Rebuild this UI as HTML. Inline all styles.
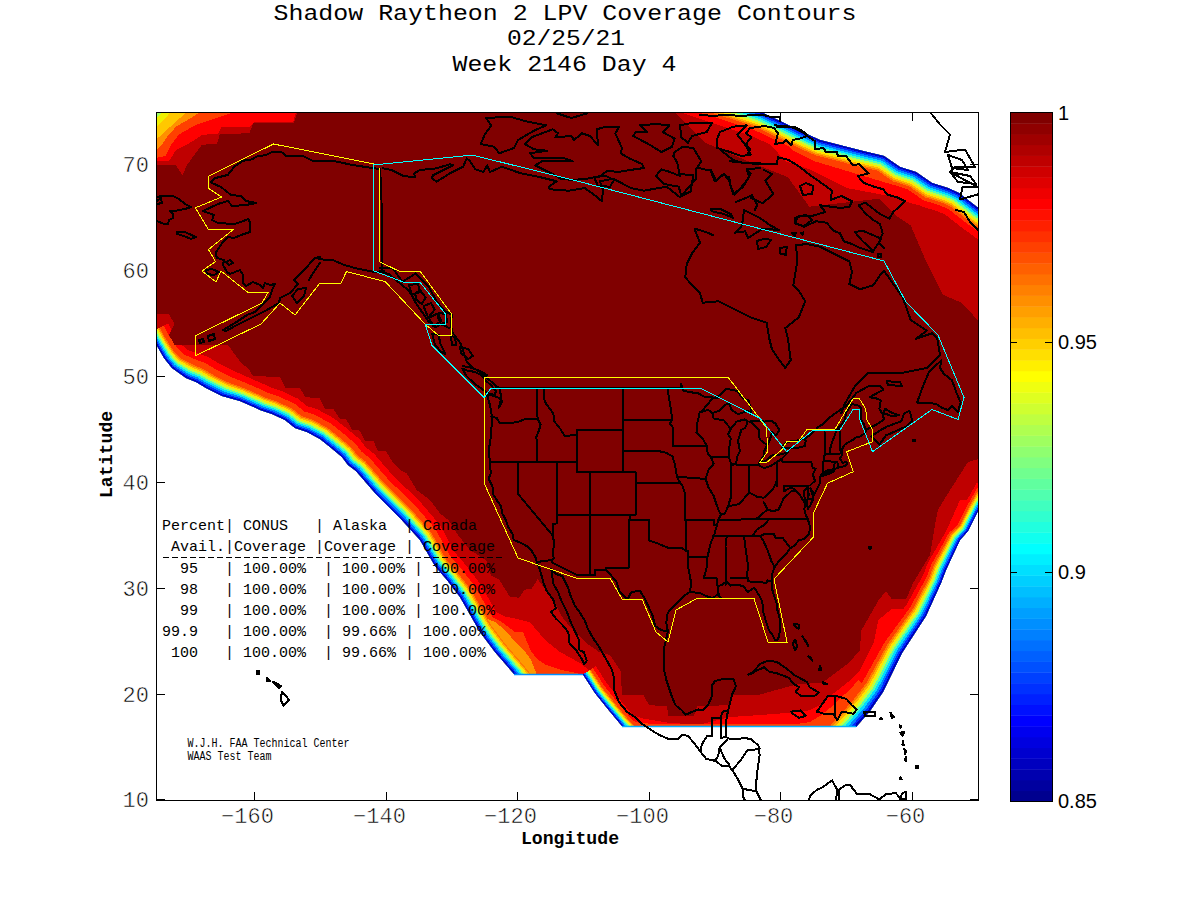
<!DOCTYPE html>
<html><head><meta charset="utf-8">
<style>
html,body{margin:0;padding:0;background:#fff;width:1200px;height:900px;overflow:hidden}
svg{position:absolute;left:0;top:0}
.mono{font-family:"Liberation Mono",monospace}
.sans{font-family:"Liberation Sans",sans-serif}
</style></head><body>
<svg width="1200" height="900" viewBox="0 0 1200 900">
<g stroke="#000" stroke-width="1">
<line x1="254.5" y1="800" x2="254.5" y2="792"/><line x1="254.5" y1="113" x2="254.5" y2="121"/><line x1="386.5" y1="800" x2="386.5" y2="792"/><line x1="386.5" y1="113" x2="386.5" y2="121"/><line x1="517.5" y1="800" x2="517.5" y2="792"/><line x1="517.5" y1="113" x2="517.5" y2="121"/><line x1="649.5" y1="800" x2="649.5" y2="792"/><line x1="649.5" y1="113" x2="649.5" y2="121"/><line x1="780.5" y1="800" x2="780.5" y2="792"/><line x1="780.5" y1="113" x2="780.5" y2="121"/><line x1="912.5" y1="800" x2="912.5" y2="792"/><line x1="912.5" y1="113" x2="912.5" y2="121"/><line x1="157" y1="799.5" x2="165" y2="799.5"/><line x1="978" y1="799.5" x2="970" y2="799.5"/><line x1="157" y1="694.5" x2="165" y2="694.5"/><line x1="978" y1="694.5" x2="970" y2="694.5"/><line x1="157" y1="588.5" x2="165" y2="588.5"/><line x1="978" y1="588.5" x2="970" y2="588.5"/><line x1="157" y1="482.5" x2="165" y2="482.5"/><line x1="978" y1="482.5" x2="970" y2="482.5"/><line x1="157" y1="376.5" x2="165" y2="376.5"/><line x1="978" y1="376.5" x2="970" y2="376.5"/><line x1="157" y1="270.5" x2="165" y2="270.5"/><line x1="978" y1="270.5" x2="970" y2="270.5"/><line x1="157" y1="164.5" x2="165" y2="164.5"/><line x1="978" y1="164.5" x2="970" y2="164.5"/>
</g>

<defs>
<clipPath id="cp0"><polygon points="156.0,112.0 761.0,112.0 761.0,112.0 780.0,121.0 809.0,135.0 820.0,140.0 863.0,151.0 884.0,156.0 900.0,167.0 916.0,172.0 932.0,183.0 948.0,188.0 959.0,193.0 977.0,207.0 978.0,207.0 978.0,511.0 968.0,531.0 960.0,540.0 952.0,557.0 946.0,570.0 941.0,583.0 926.0,616.0 902.0,653.0 883.0,692.0 870.0,711.0 856.0,727.0 856.0,727.0 622.0,726.0 622.0,726.0 607.0,708.0 595.0,693.0 583.0,674.5 514.0,674.0 495.0,652.0 480.0,632.0 460.0,597.0 447.0,580.0 435.0,566.0 420.0,540.0 400.0,518.0 375.0,493.0 356.0,471.0 348.0,465.0 342.0,457.0 330.0,447.0 320.0,439.0 307.0,432.0 295.0,428.0 285.0,420.0 272.0,414.0 260.0,410.0 256.0,408.0 240.0,401.0 222.0,396.0 206.0,388.0 196.0,382.0 186.0,378.0 172.0,368.0 164.0,358.0 156.0,344.0 156.0,344.0"/></clipPath>
<clipPath id="ax"><rect x="156" y="112" width="823" height="689"/></clipPath>
</defs>
<g clip-path="url(#ax)">
<g clip-path="url(#cp0)" shape-rendering="crispEdges">
<polygon points="156.0,112.0 761.0,112.0 761.0,112.0 780.0,121.0 809.0,135.0 820.0,140.0 863.0,151.0 884.0,156.0 900.0,167.0 916.0,172.0 932.0,183.0 948.0,188.0 959.0,193.0 977.0,207.0 978.0,207.0 978.0,511.0 968.0,531.0 960.0,540.0 952.0,557.0 946.0,570.0 941.0,583.0 926.0,616.0 902.0,653.0 883.0,692.0 870.0,711.0 856.0,727.0 856.0,727.0 622.0,726.0 622.0,726.0 607.0,708.0 595.0,693.0 583.0,674.5 514.0,674.0 495.0,652.0 480.0,632.0 460.0,597.0 447.0,580.0 435.0,566.0 420.0,540.0 400.0,518.0 375.0,493.0 356.0,471.0 348.0,465.0 342.0,457.0 330.0,447.0 320.0,439.0 307.0,432.0 295.0,428.0 285.0,420.0 272.0,414.0 260.0,410.0 256.0,408.0 240.0,401.0 222.0,396.0 206.0,388.0 196.0,382.0 186.0,378.0 172.0,368.0 164.0,358.0 156.0,344.0 156.0,344.0" fill="#bf0000"/>
<polygon points="147.4,334.4 153.4,345.5 161.5,359.7 170.0,370.2 184.5,380.6 194.7,384.7 204.6,390.6 220.9,398.8 239.0,403.8 254.8,410.7 258.9,412.8 270.9,416.8 283.4,422.6 293.6,430.6 305.8,434.7 318.4,441.5 328.1,449.3 339.9,459.1 345.9,467.1 353.8,473.1 372.8,495.1 397.8,520.1 417.6,541.8 432.5,567.7 444.7,581.9 457.5,598.6 477.5,633.6 492.7,653.9 511.7,675.9 527.7,695.9 548.8,679.0 532.5,658.6 513.7,636.9 500.3,619.1 480.3,584.1 465.7,564.9 454.9,552.5 440.2,525.3 418.7,500.1 393.2,475.9 374.0,453.7 365.7,447.3 359.7,439.3 345.8,427.7 333.6,418.1 317.1,409.1 307.0,406.1 298.0,398.7 281.3,390.8 268.8,386.6 266.2,385.2 248.3,377.4 231.9,370.1 219.2,363.6 208.4,357.2 200.0,354.0 188.2,350.2 182.5,345.7 173.8,334.1 167.9,323.3" fill="#ff0000" />
<polygon points="580.5,676.1 592.6,694.7 604.7,709.9 619.8,728.0 637.8,747.1 651.1,734.5 633.4,715.8 618.8,698.3 607.4,684.1 595.8,666.2" fill="#ff0000" />
<polygon points="842.2,747.0 858.2,729.0 872.4,712.8 885.6,693.4 904.6,654.5 928.6,617.5 943.8,584.2 948.8,571.2 954.7,558.3 962.6,541.6 970.5,532.6 980.6,512.4 992.6,491.5 977.0,482.6 964.8,503.9 955.3,523.1 945.9,531.4 935.7,549.4 928.0,562.4 923.1,575.2 906.3,605.0 879.8,640.4 858.0,678.2 846.2,692.7 833.5,707.2 817.6,725.1" fill="#ff0000" />
<polygon points="640.9,69.2 700.9,89.2 762.0,109.2 781.3,118.3 810.3,132.3 820.9,137.1 863.7,148.1 885.2,153.2 901.3,164.3 917.3,169.3 933.3,180.3 949.0,185.2 960.6,190.5 978.8,204.6 996.8,217.6 980.0,240.8 961.6,227.5 945.0,214.4 939.1,212.0 920.6,205.9 904.6,194.9 888.6,189.9 873.8,179.5 856.8,175.8 812.7,164.5 798.0,158.1 768.9,144.1 752.3,136.1 692.0,116.3 631.9,96.3" fill="#ff0000" />
<polygon points="440.0,558.0 470.0,596.7 481.7,604.8 493.3,610.7 505.0,616.5 516.7,618.8 529.5,622.3 533.0,625.8 545.0,640.0 560.0,652.0 580.0,663.0 595.0,675.0 604.0,696.0 619.0,711.0 643.0,718.5 670.0,723.0 700.0,724.5 730.0,717.0 760.0,715.0 800.0,712.0 810.0,710.0 820.0,705.0 830.0,696.0 838.0,690.0 848.0,682.0 860.0,670.0 874.0,641.8 878.3,620.2 891.3,609.3 913.0,609.3 921.7,583.3 942.3,540.0 960.0,500.0 1000.0,500.0 1000.0,800.0 400.0,800.0 400.0,560.0" fill="#ff0000" />
<polygon points="684.0,100.0 684.0,112.0 740.0,129.3 766.7,140.0 785.3,161.3 809.3,169.3 846.7,188.0 889.3,196.0 913.3,204.0 945.3,209.3 966.7,225.3 977.3,238.7 990.0,245.0 990.0,100.0" fill="#ff0000" />
<polygon points="147.4,334.4 153.4,345.5 161.5,359.7 170.0,370.2 184.5,380.6 194.7,384.7 204.6,390.6 220.9,398.8 239.0,403.8 254.8,410.7 258.9,412.8 270.9,416.8 283.4,422.6 293.6,430.6 305.8,434.7 318.4,441.5 328.1,449.3 339.9,459.1 345.9,467.1 353.8,473.1 372.8,495.1 397.8,520.1 417.6,541.8 432.5,567.7 444.7,581.9 457.5,598.6 477.5,633.6 492.7,653.9 511.7,675.9 527.7,695.9 544.2,682.6 528.0,662.3 509.1,640.5 495.4,622.2 475.4,587.2 461.2,568.6 450.1,555.8 435.3,528.9 414.2,504.4 388.8,480.1 369.6,457.9 361.4,451.6 355.4,443.6 342.0,432.4 330.3,423.2 314.6,414.7 304.1,411.4 294.8,403.9 279.0,396.5 266.6,392.3 263.8,390.8 246.3,383.2 229.5,376.4 216.0,369.5 205.4,363.2 196.6,359.9 184.2,354.5 178.0,348.7 169.4,336.5 163.5,325.6" fill="#ff4000" />
<polygon points="580.5,676.1 592.6,694.7 604.7,709.9 619.8,728.0 637.8,747.1 648.5,737.0 630.7,718.2 616.1,700.6 604.5,686.2 592.8,668.1" fill="#ff4000" />
<polygon points="842.2,747.0 858.2,729.0 872.4,712.8 885.6,693.4 904.6,654.5 928.6,617.5 943.8,584.2 948.8,571.2 954.7,558.3 962.6,541.6 970.5,532.6 980.6,512.4 992.6,491.5 979.6,484.0 967.4,505.3 957.8,524.7 948.8,533.1 939.0,550.9 931.6,563.9 926.7,576.8 910.3,607.2 884.2,643.0 863.0,681.0 851.0,696.3 838.0,711.1 822.1,729.1" fill="#ff4000" />
<polygon points="640.9,69.2 700.9,89.2 762.0,109.2 781.3,118.3 810.3,132.3 820.9,137.1 863.7,148.1 885.2,153.2 901.3,164.3 917.3,169.3 933.3,180.3 949.0,185.2 960.6,190.5 978.8,204.6 996.8,217.6 983.8,235.6 965.5,222.4 948.5,209.1 941.3,206.0 923.4,200.2 907.4,189.2 891.4,184.2 876.4,173.6 858.3,169.6 814.5,158.4 800.8,152.3 771.7,138.3 754.5,130.1 694.0,110.2 633.9,90.2" fill="#ff4000" />
<polygon points="440.0,590.0 476.5,603.0 488.4,614.9 502.5,622.5 515.5,632.3 523.1,632.3 530.7,650.7 537.2,659.3 545.8,664.8 562.1,670.2 578.3,673.4 583.0,676.0 598.0,693.0 610.0,706.5 625.0,718.5 640.0,723.0 660.0,724.2 718.0,724.2 800.0,723.5 810.0,722.0 820.0,716.0 830.0,708.0 840.0,698.0 850.0,690.0 858.0,680.0 880.0,700.0 990.0,760.0 990.0,800.0 400.0,800.0 400.0,600.0" fill="#ff4000" />
<polygon points="697.3,100.0 697.3,112.0 748.0,126.7 772.0,132.0 793.3,150.7 814.7,161.3 841.3,169.3 868.0,177.3 894.7,185.3 926.7,193.3 950.7,204.0 966.7,217.3 977.3,228.0 990.0,235.0 990.0,100.0" fill="#ff4000" />
<polygon points="440.0,600.0 496.0,622.5 505.8,631.2 515.5,642.0 524.2,650.7 530.7,659.3 536.0,672.3 540.0,690.0 400.0,720.0" fill="#ff9800" />
<polygon points="147.4,334.4 153.4,345.5 161.5,359.7 170.0,370.2 184.5,380.6 194.7,384.7 204.6,390.6 220.9,398.8 239.0,403.8 254.8,410.7 258.9,412.8 270.9,416.8 283.4,422.6 293.6,430.6 305.8,434.7 318.4,441.5 328.1,449.3 339.9,459.1 345.9,467.1 353.8,473.1 372.8,495.1 397.8,520.1 417.6,541.8 432.5,567.7 444.7,581.9 457.5,598.6 477.5,633.6 492.7,653.9 511.7,675.9 527.7,695.9 540.2,685.9 524.0,665.7 505.1,643.8 491.0,625.0 471.0,590.0 457.1,571.8 445.8,558.7 430.9,532.0 410.1,508.3 384.9,483.8 365.7,461.6 357.5,455.5 351.5,447.5 338.5,436.6 327.4,427.7 312.4,419.6 301.5,416.1 292.0,408.5 277.0,401.5 264.7,397.4 261.5,395.7 244.5,388.3 227.4,382.0 213.1,374.8 202.7,368.6 193.6,365.0 180.7,358.4 174.0,351.3 165.6,338.6 159.7,327.7" fill="#ff7800" />
<polygon points="580.5,676.1 592.6,694.7 604.7,709.9 619.8,728.0 637.8,747.1 646.5,738.8 628.7,720.0 614.0,702.3 602.3,687.8 590.6,669.6" fill="#ff7800" />
<polygon points="842.2,747.0 858.2,729.0 872.4,712.8 885.6,693.4 904.6,654.5 928.6,617.5 943.8,584.2 948.8,571.2 954.7,558.3 962.6,541.6 970.5,532.6 980.6,512.4 992.6,491.5 981.3,485.0 969.2,506.3 959.5,525.7 950.6,534.2 941.1,551.9 934.0,564.9 929.1,577.8 912.9,608.7 887.2,644.6 866.4,682.8 854.2,698.8 841.0,713.8 825.1,731.7" fill="#ff7800" />
<polygon points="640.9,69.2 700.9,89.2 762.0,109.2 781.3,118.3 810.3,132.3 820.9,137.1 863.7,148.1 885.2,153.2 901.3,164.3 917.3,169.3 933.3,180.3 949.0,185.2 960.6,190.5 978.8,204.6 996.8,217.6 985.6,233.0 967.4,219.8 950.2,206.4 942.4,203.0 924.8,197.3 908.8,186.3 892.8,181.3 877.6,170.7 859.1,166.5 815.5,155.3 802.1,149.5 773.1,135.4 755.5,127.0 695.0,107.2 634.9,87.2" fill="#ff7800" />
<polygon points="147.4,334.4 153.4,345.5 161.5,359.7 170.0,370.2 184.5,380.6 194.7,384.7 204.6,390.6 220.9,398.8 239.0,403.8 254.8,410.7 258.9,412.8 270.9,416.8 283.4,422.6 293.6,430.6 305.8,434.7 318.4,441.5 328.1,449.3 339.9,459.1 345.9,467.1 353.8,473.1 372.8,495.1 397.8,520.1 417.6,541.8 432.5,567.7 444.7,581.9 457.5,598.6 477.5,633.6 492.7,653.9 511.7,675.9 527.7,695.9 539.1,686.7 523.0,666.5 504.1,644.6 489.9,625.7 469.9,590.7 456.1,572.7 444.7,559.5 429.8,532.8 409.1,509.3 383.9,484.7 364.7,462.6 356.6,456.4 350.6,448.4 337.7,437.6 326.6,428.8 311.9,420.9 300.8,417.3 291.3,409.6 276.5,402.7 264.3,398.6 261.0,396.9 244.0,389.5 226.8,383.4 212.4,376.1 202.0,369.9 192.8,366.3 179.9,359.3 173.0,352.0 164.6,339.2 158.7,328.3" fill="#ffaf00" />
<polygon points="580.5,676.1 592.6,694.7 604.7,709.9 619.8,728.0 637.8,747.1 645.9,739.4 628.0,720.6 613.3,702.9 601.6,688.3 589.8,670.1" fill="#ffaf00" />
<polygon points="842.2,747.0 858.2,729.0 872.4,712.8 885.6,693.4 904.6,654.5 928.6,617.5 943.8,584.2 948.8,571.2 954.7,558.3 962.6,541.6 970.5,532.6 980.6,512.4 992.6,491.5 982.2,485.5 970.1,506.7 960.4,526.3 951.6,534.8 942.2,552.4 935.2,565.4 930.3,578.3 914.2,609.4 888.7,645.5 868.0,683.7 855.7,700.0 842.5,715.1 826.5,733.0" fill="#ffaf00" />
<polygon points="640.9,69.2 700.9,89.2 762.0,109.2 781.3,118.3 810.3,132.3 820.9,137.1 863.7,148.1 885.2,153.2 901.3,164.3 917.3,169.3 933.3,180.3 949.0,185.2 960.6,190.5 978.8,204.6 996.8,217.6 986.6,231.7 968.4,218.5 951.1,205.0 943.0,201.5 925.6,195.9 909.6,184.9 893.6,179.9 878.3,169.2 859.5,165.0 815.9,153.8 802.8,148.0 773.8,134.0 756.1,125.5 695.5,105.7 635.4,85.7" fill="#ffaf00" />
<polygon points="147.4,334.4 153.4,345.5 161.5,359.7 170.0,370.2 184.5,380.6 194.7,384.7 204.6,390.6 220.9,398.8 239.0,403.8 254.8,410.7 258.9,412.8 270.9,416.8 283.4,422.6 293.6,430.6 305.8,434.7 318.4,441.5 328.1,449.3 339.9,459.1 345.9,467.1 353.8,473.1 372.8,495.1 397.8,520.1 417.6,541.8 432.5,567.7 444.7,581.9 457.5,598.6 477.5,633.6 492.7,653.9 511.7,675.9 527.7,695.9 538.1,687.5 522.0,667.3 503.1,645.5 488.8,626.4 468.8,591.4 455.1,573.5 443.6,560.2 428.7,533.6 408.1,510.3 382.9,485.6 363.8,463.5 355.6,457.4 349.6,449.4 336.8,438.6 325.9,430.0 311.3,422.1 300.2,418.5 290.6,410.8 276.0,404.0 263.8,399.9 260.4,398.2 243.6,390.8 226.3,384.8 211.7,377.4 201.4,371.3 192.0,367.6 179.0,360.3 172.0,352.7 163.7,339.7 157.7,328.8" fill="#ffe600" />
<polygon points="580.5,676.1 592.6,694.7 604.7,709.9 619.8,728.0 637.8,747.1 645.2,740.0 627.4,721.2 612.6,703.4 600.9,688.8 589.0,670.6" fill="#ffe600" />
<polygon points="842.2,747.0 858.2,729.0 872.4,712.8 885.6,693.4 904.6,654.5 928.6,617.5 943.8,584.2 948.8,571.2 954.7,558.3 962.6,541.6 970.5,532.6 980.6,512.4 992.6,491.5 983.1,486.0 971.0,507.2 961.2,526.8 952.5,535.4 943.3,552.9 936.4,565.9 931.5,578.9 915.5,610.2 890.2,646.3 869.7,684.7 857.3,701.2 844.0,716.4 828.0,734.4" fill="#ffe600" />
<polygon points="640.9,69.2 700.9,89.2 762.0,109.2 781.3,118.3 810.3,132.3 820.9,137.1 863.7,148.1 885.2,153.2 901.3,164.3 917.3,169.3 933.3,180.3 949.0,185.2 960.6,190.5 978.8,204.6 996.8,217.6 987.5,230.4 969.3,217.2 952.0,203.7 943.6,200.0 926.3,194.4 910.3,183.4 894.3,178.4 878.9,167.7 859.9,163.4 816.4,152.3 803.5,146.6 774.5,132.5 756.6,124.0 696.0,104.2 636.0,84.1" fill="#ffe600" />
<polygon points="147.4,334.4 153.4,345.5 161.5,359.7 170.0,370.2 184.5,380.6 194.7,384.7 204.6,390.6 220.9,398.8 239.0,403.8 254.8,410.7 258.9,412.8 270.9,416.8 283.4,422.6 293.6,430.6 305.8,434.7 318.4,441.5 328.1,449.3 339.9,459.1 345.9,467.1 353.8,473.1 372.8,495.1 397.8,520.1 417.6,541.8 432.5,567.7 444.7,581.9 457.5,598.6 477.5,633.6 492.7,653.9 511.7,675.9 527.7,695.9 536.9,688.5 520.8,668.3 501.9,646.4 487.5,627.3 467.5,592.3 453.9,574.5 442.3,561.1 427.4,534.6 406.9,511.4 381.7,486.7 362.6,464.6 354.5,458.5 348.5,450.5 335.8,439.9 325.0,431.3 310.7,423.6 299.4,419.9 289.8,412.2 275.4,405.5 263.2,401.4 259.8,399.6 243.1,392.3 225.6,386.5 210.8,379.0 200.6,372.9 191.1,369.2 177.9,361.5 170.8,353.5 162.5,340.3 156.6,329.4" fill="#beff40" />
<polygon points="580.5,676.1 592.6,694.7 604.7,709.9 619.8,728.0 637.8,747.1 644.4,740.8 626.6,721.9 611.7,704.1 600.0,689.4 588.1,671.2" fill="#beff40" />
<polygon points="842.2,747.0 858.2,729.0 872.4,712.8 885.6,693.4 904.6,654.5 928.6,617.5 943.8,584.2 948.8,571.2 954.7,558.3 962.6,541.6 970.5,532.6 980.6,512.4 992.6,491.5 984.1,486.6 972.0,507.8 962.2,527.4 953.6,536.1 944.6,553.5 937.9,566.6 932.9,579.5 917.1,611.0 891.9,647.3 871.7,685.8 859.2,702.7 845.8,718.0 829.8,736.0" fill="#beff40" />
<polygon points="640.9,69.2 700.9,89.2 762.0,109.2 781.3,118.3 810.3,132.3 820.9,137.1 863.7,148.1 885.2,153.2 901.3,164.3 917.3,169.3 933.3,180.3 949.0,185.2 960.6,190.5 978.8,204.6 996.8,217.6 988.6,228.8 970.5,215.7 953.0,202.1 944.2,198.2 927.1,192.7 911.1,181.7 895.1,176.7 879.7,166.0 860.4,161.6 816.9,150.4 804.3,144.8 775.3,130.8 757.3,122.2 696.6,102.3 636.6,82.3" fill="#beff40" />
<polygon points="147.4,334.4 153.4,345.5 161.5,359.7 170.0,370.2 184.5,380.6 194.7,384.7 204.6,390.6 220.9,398.8 239.0,403.8 254.8,410.7 258.9,412.8 270.9,416.8 283.4,422.6 293.6,430.6 305.8,434.7 318.4,441.5 328.1,449.3 339.9,459.1 345.9,467.1 353.8,473.1 372.8,495.1 397.8,520.1 417.6,541.8 432.5,567.7 444.7,581.9 457.5,598.6 477.5,633.6 492.7,653.9 511.7,675.9 527.7,695.9 535.7,689.5 519.6,669.3 500.7,647.4 486.1,628.1 466.1,593.1 452.7,575.4 441.0,561.9 426.1,535.5 405.7,512.6 380.5,487.8 361.4,465.8 353.3,459.7 347.3,451.7 334.8,441.1 324.1,432.7 310.0,425.1 298.6,421.4 288.9,413.5 274.8,407.0 262.7,402.9 259.1,401.1 242.5,393.9 225.0,388.2 210.0,380.6 199.8,374.5 190.2,370.7 176.9,362.6 169.6,354.3 161.4,341.0 155.4,330.1" fill="#50ffaf" />
<polygon points="580.5,676.1 592.6,694.7 604.7,709.9 619.8,728.0 637.8,747.1 643.7,741.5 625.8,722.6 610.9,704.8 599.1,690.1 587.2,671.8" fill="#50ffaf" />
<polygon points="842.2,747.0 858.2,729.0 872.4,712.8 885.6,693.4 904.6,654.5 928.6,617.5 943.8,584.2 948.8,571.2 954.7,558.3 962.6,541.6 970.5,532.6 980.6,512.4 992.6,491.5 985.1,487.2 973.1,508.4 963.2,528.0 954.8,536.8 945.9,554.2 939.3,567.2 934.3,580.1 918.7,611.9 893.7,648.3 873.7,686.9 861.1,704.2 847.6,719.6 831.6,737.6" fill="#50ffaf" />
<polygon points="640.9,69.2 700.9,89.2 762.0,109.2 781.3,118.3 810.3,132.3 820.9,137.1 863.7,148.1 885.2,153.2 901.3,164.3 917.3,169.3 933.3,180.3 949.0,185.2 960.6,190.5 978.8,204.6 996.8,217.6 989.8,227.3 971.6,214.2 954.1,200.5 944.9,196.4 928.0,191.0 912.0,180.0 896.0,175.0 880.4,164.2 860.8,159.7 817.5,148.6 805.2,143.1 776.1,129.1 757.9,120.4 697.2,100.5 637.2,80.5" fill="#50ffaf" />
<polygon points="147.4,334.4 153.4,345.5 161.5,359.7 170.0,370.2 184.5,380.6 194.7,384.7 204.6,390.6 220.9,398.8 239.0,403.8 254.8,410.7 258.9,412.8 270.9,416.8 283.4,422.6 293.6,430.6 305.8,434.7 318.4,441.5 328.1,449.3 339.9,459.1 345.9,467.1 353.8,473.1 372.8,495.1 397.8,520.1 417.6,541.8 432.5,567.7 444.7,581.9 457.5,598.6 477.5,633.6 492.7,653.9 511.7,675.9 527.7,695.9 534.5,690.4 518.4,670.3 499.4,648.4 484.8,628.9 464.8,593.9 451.5,576.4 439.7,562.8 424.8,536.5 404.4,513.7 379.3,488.9 360.3,466.9 352.2,460.8 346.2,452.8 333.8,442.4 323.2,434.0 309.4,426.6 297.8,422.8 288.1,414.9 274.2,408.5 262.1,404.4 258.4,402.6 242.0,395.4 224.4,389.8 209.1,382.2 199.0,376.1 189.3,372.3 175.8,363.8 168.4,355.1 160.2,341.6 154.2,330.7" fill="#00dcff" />
<polygon points="580.5,676.1 592.6,694.7 604.7,709.9 619.8,728.0 637.8,747.1 642.9,742.3 625.0,723.4 610.1,705.5 598.2,690.7 586.3,672.3" fill="#00dcff" />
<polygon points="842.2,747.0 858.2,729.0 872.4,712.8 885.6,693.4 904.6,654.5 928.6,617.5 943.8,584.2 948.8,571.2 954.7,558.3 962.6,541.6 970.5,532.6 980.6,512.4 992.6,491.5 986.2,487.8 974.1,508.9 964.3,528.7 955.9,537.5 947.2,554.8 940.7,567.8 935.8,580.7 920.2,612.8 895.5,649.3 875.7,688.0 863.0,705.6 849.4,721.2 833.4,739.2" fill="#00dcff" />
<polygon points="640.9,69.2 700.9,89.2 762.0,109.2 781.3,118.3 810.3,132.3 820.9,137.1 863.7,148.1 885.2,153.2 901.3,164.3 917.3,169.3 933.3,180.3 949.0,185.2 960.6,190.5 978.8,204.6 996.8,217.6 990.9,225.7 972.8,212.6 955.1,198.9 945.6,194.6 928.9,189.3 912.9,178.3 896.9,173.3 881.2,162.5 861.3,157.8 818.0,146.7 806.0,141.4 777.0,127.3 758.6,118.6 697.8,98.7 637.8,78.7" fill="#00dcff" />
<polygon points="147.4,334.4 153.4,345.5 161.5,359.7 170.0,370.2 184.5,380.6 194.7,384.7 204.6,390.6 220.9,398.8 239.0,403.8 254.8,410.7 258.9,412.8 270.9,416.8 283.4,422.6 293.6,430.6 305.8,434.7 318.4,441.5 328.1,449.3 339.9,459.1 345.9,467.1 353.8,473.1 372.8,495.1 397.8,520.1 417.6,541.8 432.5,567.7 444.7,581.9 457.5,598.6 477.5,633.6 492.7,653.9 511.7,675.9 527.7,695.9 533.2,691.4 517.2,671.3 498.2,649.4 483.5,629.8 463.5,594.8 450.2,577.4 438.4,563.7 423.5,537.5 403.2,514.9 378.2,490.0 359.1,468.0 351.1,461.9 345.1,453.9 332.7,443.7 322.4,435.4 308.7,428.0 297.1,424.2 287.2,416.3 273.6,410.0 261.5,406.0 257.8,404.1 241.4,396.9 223.7,391.5 208.3,383.8 198.1,377.7 188.4,373.9 174.8,364.9 167.2,355.9 159.1,342.3 153.1,331.3" fill="#0080ff" />
<polygon points="580.5,676.1 592.6,694.7 604.7,709.9 619.8,728.0 637.8,747.1 642.1,743.0 624.1,724.1 609.2,706.2 597.3,691.3 585.4,672.9" fill="#0080ff" />
<polygon points="842.2,747.0 858.2,729.0 872.4,712.8 885.6,693.4 904.6,654.5 928.6,617.5 943.8,584.2 948.8,571.2 954.7,558.3 962.6,541.6 970.5,532.6 980.6,512.4 992.6,491.5 987.2,488.4 975.2,509.5 965.3,529.3 957.0,538.2 948.5,555.4 942.2,568.4 937.2,581.3 921.8,613.7 897.3,650.3 877.7,689.1 864.9,707.1 851.2,722.8 835.2,740.7" fill="#0080ff" />
<polygon points="640.9,69.2 700.9,89.2 762.0,109.2 781.3,118.3 810.3,132.3 820.9,137.1 863.7,148.1 885.2,153.2 901.3,164.3 917.3,169.3 933.3,180.3 949.0,185.2 960.6,190.5 978.8,204.6 996.8,217.6 992.0,224.2 973.9,211.1 956.2,197.3 946.2,192.8 929.7,187.6 913.7,176.6 897.7,171.6 882.0,160.7 861.8,156.0 818.5,144.9 806.8,139.6 777.8,125.6 759.3,116.8 698.4,96.9 638.4,76.9" fill="#0080ff" />
<polygon points="147.4,334.4 153.4,345.5 161.5,359.7 170.0,370.2 184.5,380.6 194.7,384.7 204.6,390.6 220.9,398.8 239.0,403.8 254.8,410.7 258.9,412.8 270.9,416.8 283.4,422.6 293.6,430.6 305.8,434.7 318.4,441.5 328.1,449.3 339.9,459.1 345.9,467.1 353.8,473.1 372.8,495.1 397.8,520.1 417.6,541.8 432.5,567.7 444.7,581.9 457.5,598.6 477.5,633.6 492.7,653.9 511.7,675.9 527.7,695.9 532.0,692.4 516.0,672.3 497.0,650.4 482.2,630.6 462.2,595.6 449.0,578.4 437.2,564.5 422.2,538.4 402.0,516.1 377.0,491.2 357.9,469.1 349.9,463.1 343.9,455.1 331.7,444.9 321.5,436.7 308.1,429.5 296.3,425.6 286.4,417.7 273.0,411.5 260.9,407.5 257.1,405.5 240.9,398.5 223.1,393.2 207.4,385.4 197.3,379.3 187.5,375.4 173.7,366.1 166.0,356.7 157.9,342.9 151.9,331.9" fill="#0028ff" />
<polygon points="580.5,676.1 592.6,694.7 604.7,709.9 619.8,728.0 637.8,747.1 641.3,743.8 623.3,724.8 608.4,706.9 596.5,692.0 584.5,673.5" fill="#0028ff" />
<polygon points="842.2,747.0 858.2,729.0 872.4,712.8 885.6,693.4 904.6,654.5 928.6,617.5 943.8,584.2 948.8,571.2 954.7,558.3 962.6,541.6 970.5,532.6 980.6,512.4 992.6,491.5 988.3,489.0 976.2,510.1 966.3,529.9 958.1,538.8 949.8,556.0 943.6,569.0 938.6,582.0 923.4,614.5 899.0,651.3 879.7,690.2 866.8,708.6 853.0,724.4 837.0,742.3" fill="#0028ff" />
<polygon points="640.9,69.2 700.9,89.2 762.0,109.2 781.3,118.3 810.3,132.3 820.9,137.1 863.7,148.1 885.2,153.2 901.3,164.3 917.3,169.3 933.3,180.3 949.0,185.2 960.6,190.5 978.8,204.6 996.8,217.6 993.1,222.6 975.1,209.6 957.2,195.7 946.9,191.0 930.6,185.9 914.6,174.9 898.6,169.9 882.7,158.9 862.2,154.1 819.1,143.1 807.6,137.9 778.6,123.9 759.9,115.0 699.0,95.0 639.0,75.0" fill="#0028ff" />
<polygon points="147.4,334.4 153.4,345.5 161.5,359.7 170.0,370.2 184.5,380.6 194.7,384.7 204.6,390.6 220.9,398.8 239.0,403.8 254.8,410.7 258.9,412.8 270.9,416.8 283.4,422.6 293.6,430.6 305.8,434.7 318.4,441.5 328.1,449.3 339.9,459.1 345.9,467.1 353.8,473.1 372.8,495.1 397.8,520.1 417.6,541.8 432.5,567.7 444.7,581.9 457.5,598.6 477.5,633.6 492.7,653.9 511.7,675.9 527.7,695.9 531.0,693.2 515.0,673.2 496.0,651.2 481.1,631.3 461.1,596.3 448.0,579.2 436.1,565.3 421.1,539.2 401.0,517.0 376.0,492.1 357.0,470.1 349.0,464.0 343.0,456.0 330.9,446.0 320.7,437.9 307.5,430.8 295.6,426.8 285.7,418.8 272.5,412.7 260.5,408.7 256.6,406.8 240.4,399.7 222.5,394.6 206.7,386.7 196.7,380.7 186.8,376.7 172.9,367.0 165.0,357.3 157.0,343.5 151.0,332.5" fill="#0000b4" />
<polygon points="580.5,676.1 592.6,694.7 604.7,709.9 619.8,728.0 637.8,747.1 640.7,744.4 622.7,725.4 607.7,707.4 595.7,692.5 583.8,674.0" fill="#0000b4" />
<polygon points="842.2,747.0 858.2,729.0 872.4,712.8 885.6,693.4 904.6,654.5 928.6,617.5 943.8,584.2 948.8,571.2 954.7,558.3 962.6,541.6 970.5,532.6 980.6,512.4 992.6,491.5 989.1,489.5 977.1,510.5 967.2,530.5 959.1,539.4 950.9,556.5 944.8,569.5 939.8,582.5 924.7,615.3 900.5,652.2 881.3,691.1 868.4,709.8 854.5,725.7 838.5,743.7" fill="#0000b4" />
<polygon points="640.9,69.2 700.9,89.2 762.0,109.2 781.3,118.3 810.3,132.3 820.9,137.1 863.7,148.1 885.2,153.2 901.3,164.3 917.3,169.3 933.3,180.3 949.0,185.2 960.6,190.5 978.8,204.6 996.8,217.6 994.1,221.3 976.0,208.3 958.1,194.3 947.4,189.5 931.3,184.4 915.3,173.4 899.3,168.4 883.4,157.5 862.6,152.6 819.5,141.5 808.3,136.4 779.3,122.4 760.5,113.5 699.5,93.5 639.5,73.5" fill="#0000b4" />
<polygon points="156.0,112.0 296.0,112.0 293.3,121.6 254.0,122.4 250.0,126.7 221.3,127.0 218.0,134.0 202.7,134.7 188.0,144.0 176.0,150.0 169.3,160.7 156.0,161.3" fill="#ff0000" />
<polygon points="156.0,112.0 234.7,112.0 214.7,118.7 196.0,124.7 178.7,134.7 170.7,145.3 165.3,156.0 156.0,158.0" fill="#ff4000" />
<polygon points="156.0,112.0 200.0,112.0 192.0,117.3 176.0,126.7 166.7,137.3 161.3,145.3 156.0,150.7" fill="#ff9000" />
<polygon points="156.0,112.0 186.7,112.0 173.3,124.0 158.7,137.3 156.0,139.3" fill="#ffc800" />
<polygon points="156.0,112.0 170.7,112.0 158.7,125.3 156.0,127.3" fill="#f0f000" />
<polygon points="156.0,112.0 163.0,112.0 156.0,118.0" fill="#a0ff60" />
<polygon points="156.0,164.7 176.0,165.3 182.7,175.3 186.7,165.3 202.0,144.7 216.7,144.0 220.0,134.0 249.3,133.3 253.3,123.3 294.0,122.7 298.0,111.0 673.3,111.0 705.3,142.7 748.0,161.3 788.0,177.3 809.3,206.7 878.7,198.7 894.7,214.7 910.7,225.3 926.7,262.7 942.7,294.7 961.3,302.7 979.0,321.3 979.0,459.0 968.0,462.0 947.0,495.0 938.0,510.0 935.0,525.0 930.0,555.0 913.0,583.3 906.5,598.5 891.3,598.5 886.0,591.0 878.3,600.7 861.0,631.0 860.0,650.5 848.0,663.5 822.0,683.0 798.0,684.0 760.0,694.5 731.5,694.5 730.0,705.0 697.0,706.5 694.0,715.5 668.5,715.5 667.0,706.5 649.0,705.0 643.0,694.5 622.0,694.5 620.5,670.5 610.0,655.0 598.4,651.5 586.7,643.3 577.3,634.0 569.2,625.8 561.0,615.3 554.0,601.3 544.7,588.5 537.7,579.2 531.8,588.5 524.8,589.7 519.0,597.8 509.7,596.7 499.0,579.2 491.0,575.7 486.3,560.5 478.0,555.0 470.0,550.0 463.3,541.7 456.7,533.3 448.3,520.0 440.0,513.3 430.0,500.0 416.7,490.0 406.7,473.3 400.0,470.0 393.0,462.7 386.0,451.0 377.9,451.0 373.2,440.5 365.0,440.5 359.2,430.0 352.2,430.0 346.3,419.5 339.3,418.3 333.5,409.0 325.3,409.0 319.5,398.0 305.5,397.3 299.7,388.0 285.7,388.0 279.8,377.0 253.0,376.0 248.0,368.0 242.0,364.0 236.0,356.0 228.0,345.0 174.5,344.5 169.0,335.0 174.5,324.0 169.0,314.0 155.0,314.0" fill="#800000" />
</g>
<line x1="514" y1="674.5" x2="583" y2="674.5" stroke="#0090ff" stroke-width="1.5"/>
<line x1="622" y1="726.5" x2="856" y2="726.5" stroke="#00b0ff" stroke-width="1.5"/>
<g fill="none" stroke="#000" stroke-width="2" stroke-linejoin="round" stroke-linecap="round" shape-rendering="crispEdges">
<polyline points="496.0,387.7 681.1,387.7 681.1,383.7"/>
<polyline points="491.4,416.8 496.6,417.9 499.3,422.6 509.8,423.1 517.7,422.1 524.3,419.4 537.9,419.4"/>
<polyline points="537.1,387.7 537.1,415.0 537.9,419.4"/>
<polyline points="537.9,419.4 540.7,424.7 538.7,431.1 536.1,437.4 537.2,442.7 537.2,461.8"/>
<polyline points="490.1,461.8 576.5,461.8"/>
<polyline points="517.7,461.8 517.7,493.5 553.0,535.9"/>
<polyline points="556.8,461.8 556.8,523.2 553.2,524.2 553.0,535.9"/>
<polyline points="553.0,535.9 554.2,544.3 552.5,552.8 553.8,558.1 552.4,560.0"/>
<polyline points="536.6,562.0 552.4,560.0 551.8,562.4 576.4,574.7 595.2,574.7 595.2,570.0 606.3,570.0"/>
<polyline points="556.8,514.7 635.8,514.7"/>
<polyline points="589.7,472.4 589.7,574.7"/>
<polyline points="543.7,387.7 543.7,398.3 546.0,403.6 553.2,413.1 554.5,421.6 560.4,429.0 565.0,436.4 573.6,434.8 576.5,435.3"/>
<polyline points="576.5,430.0 576.5,472.4"/>
<polyline points="576.5,430.0 622.6,430.0"/>
<polyline points="576.5,472.4 635.7,472.4"/>
<polyline points="622.6,387.7 622.6,472.4"/>
<polyline points="622.6,420.1 671.8,420.1"/>
<polyline points="622.6,451.2 659.1,451.2 666.3,452.8 672.5,456.5"/>
<polyline points="635.7,472.4 635.7,514.7"/>
<polyline points="635.7,482.9 680.1,482.9"/>
<polyline points="629.5,514.7 629.5,520.0 649.2,520.0 649.2,540.5 654.5,542.2 662.4,545.4 668.9,548.0 675.5,548.0 682.1,548.0 685.7,550.7"/>
<polyline points="629.1,520.0 629.1,567.6 605.7,567.6"/>
<polyline points="667.4,387.7 669.6,401.4 671.6,414.1 671.8,420.1 669.9,423.7 672.5,426.8 672.5,445.9"/>
<polyline points="672.5,445.9 706.9,445.9"/>
<polyline points="672.5,456.5 674.8,463.9 676.2,472.4 677.0,476.8"/>
<polyline points="677.0,476.8 705.6,478.9"/>
<polyline points="677.0,476.8 680.1,482.9 682.7,486.1 684.7,492.5 684.7,520.0"/>
<polyline points="684.6,520.0 714.0,520.0 714.3,525.3 716.9,525.3"/>
<polyline points="685.7,520.0 685.7,550.7 688.3,551.2 688.3,557.0 707.4,557.0"/>
<polyline points="688.3,557.0 688.3,567.6 690.0,576.1 691.3,584.6 689.6,592.0"/>
<polyline points="699.8,412.0 697.2,423.7 696.5,432.7 702.5,438.5 706.9,445.9 707.7,454.4 710.8,456.5 713.6,463.9 708.4,470.2 705.6,478.9 708.4,487.2 713.6,495.7 718.2,509.4 720.9,514.7 718.2,520.0 716.9,525.3 714.3,534.8 711.0,542.2 707.4,557.0 707.1,565.5 704.4,576.1 704.4,578.2 716.6,578.2 716.6,582.4 717.6,586.7"/>
<polyline points="712.3,413.6 713.6,418.4 724.2,420.5 730.7,429.0"/>
<polyline points="710.8,456.5 729.4,456.5"/>
<polyline points="731.2,464.3 731.2,490.4 730.7,497.8 728.1,506.2"/>
<polyline points="777.3,476.2 776.1,482.9 772.8,489.3 768.2,494.1 763.6,497.8 757.0,496.7 749.2,492.5 744.6,497.8 739.3,504.1 733.4,505.2 728.1,506.2 724.8,513.6 720.9,514.7"/>
<polyline points="749.0,465.0 749.0,492.5"/>
<polyline points="731.2,464.3 749.0,465.0 758.0,464.6"/>
<polyline points="777.3,461.8 777.3,485.9"/>
<polyline points="718.2,520.0 769.5,518.9"/>
<polyline points="763.6,502.0 767.6,509.4 756.4,518.9"/>
<polyline points="769.5,518.9 763.6,525.3 757.0,529.5 752.4,535.9"/>
<polyline points="713.0,535.9 752.4,535.9 760.3,535.9"/>
<polyline points="726.8,535.9 725.5,546.5 725.5,568.7 725.5,584.6"/>
<polyline points="743.9,535.9 747.8,564.5 747.2,578.2"/>
<polyline points="730.7,578.2 747.8,578.2 748.5,581.4 766.3,582.8 767.6,580.3 770.9,581.4"/>
<polyline points="760.3,535.9 764.9,533.8 774.1,534.3 775.5,538.0 782.7,538.0 790.3,548.0"/>
<polyline points="760.3,535.9 763.6,541.2 768.2,551.8 771.5,561.3 774.8,567.1"/>
<polyline points="756.4,518.9 769.5,518.9 807.7,519.5"/>
<polyline points="767.6,509.4 772.8,511.5 778.7,509.4 783.4,498.8 791.2,491.4 795.8,490.4"/>
<polyline points="784.0,491.4 784.0,485.9 808.4,485.9 808.4,499.4 813.3,499.4"/>
<polyline points="784.0,491.4 791.2,487.2 795.8,490.4 799.8,494.6 805.1,504.1"/>
<polyline points="782.3,458.9 782.3,461.8 811.2,461.8 812.9,468.1 815.6,468.7"/>
<polyline points="815.6,468.7 812.9,474.5 814.9,480.8 810.3,485.1"/>
<polyline points="824.5,430.0 824.8,453.8 823.5,461.3 822.5,472.4"/>
<polyline points="815.6,430.0 836.6,430.0"/>
<polyline points="836.6,430.0 834.0,437.4 830.7,445.9 829.7,454.1"/>
<polyline points="824.8,453.8 837.9,454.4 841.2,452.8"/>
<polyline points="823.5,461.3 834.6,461.6 837.3,461.8 838.6,467.1"/>
<polyline points="834.6,461.6 834.3,469.2"/>
<polyline points="839.4,426.8 840.0,450.1 841.9,450.7"/>
<polyline points="836.6,430.0 839.4,426.8 844.5,420.5 846.5,412.0 851.7,404.1 857.7,405.2 861.1,408.1 861.1,420.2 863.6,423.7 866.2,430.0"/>
<polyline points="815.6,430.0 808.3,436.4 805.1,438.5"/>
<polyline points="681.1,383.7 683.4,390.9 691.9,392.4 698.5,393.5 705.1,397.2 711.7,397.2 717.6,398.5"/>
<polyline points="606.3,570.0 616.3,581.4 619.6,592.0 627.5,599.4 631.4,592.0 640.0,590.9 644.6,598.3 652.5,615.3 655.1,625.8 661.0,630.1 667.9,631.7"/>
<polyline points="379.6,268.1 392.1,267.5 402.6,281.8 415.8,273.4 428.9,287.1 436.8,301.9 445.3,311.5 451.9,314.6"/>
<polyline points="379.6,271.2 389.4,274.4 398.0,281.8 408.5,290.3 412.5,296.7 415.8,303.0 421.7,311.5 428.2,321.0 435.5,327.4 440.7,324.2 446.0,326.3 449.3,328.4"/>
<polyline points="415.1,293.5 420.4,290.3 425.6,297.7 421.7,304.1 416.4,299.8 415.1,293.5"/>
<polyline points="423.6,306.2 430.9,303.0 434.8,309.4 428.2,317.8 423.6,306.2"/>
<polyline points="428.9,317.8 437.5,313.6 441.4,321.0 433.5,326.3 428.9,317.8"/>
<polyline points="451.9,314.6 450.6,324.2 452.6,332.6 460.5,343.2 463.8,352.8 467.0,362.3 472.3,367.6 482.2,372.9 487.4,378.2 493.3,383.5 496.6,386.6 499.3,387.7"/>
<polyline points="432.2,333.7 438.8,334.8 440.1,343.2 445.3,353.8 440.7,351.7 434.8,344.3 432.2,333.7"/>
<polyline points="462.4,368.6 466.4,376.0 474.3,383.5 481.5,388.7 487.4,393.0 494.7,395.1 496.0,390.9 491.4,385.6 485.5,380.3 481.5,375.0 474.3,371.8 467.7,370.7 462.4,368.6"/>
<polyline points="499.3,387.7 500.6,394.0 501.9,402.5 498.6,407.8 501.2,399.3 497.3,397.2 486.8,394.0 490.1,405.7 492.0,416.3 491.7,424.7 490.7,437.4 488.7,451.2 490.1,462.8 490.7,473.4 488.7,478.7 492.7,487.2 493.3,494.6 498.0,502.0 501.2,506.2 501.9,512.6 505.2,518.9 508.5,527.4 512.4,533.8 513.7,540.1 521.0,542.8 527.5,546.5 530.8,549.6 535.4,557.0 536.8,562.3 540.0,569.7 543.3,582.4 546.6,590.9 553.2,599.4 555.8,607.9 551.2,612.1 555.8,618.4 562.4,624.8 568.3,632.2 569.6,643.8 575.5,649.1 582.1,659.7 584.1,664.0 586.7,660.8 584.1,652.3 579.5,650.2 578.8,639.6 574.9,631.1 570.9,622.7 567.0,612.1 561.7,601.5 558.5,593.0 553.2,583.5 551.9,572.9 551.2,568.7 555.8,574.0 562.4,576.1 567.7,586.7 570.3,595.2 574.9,605.7 579.5,612.1 584.8,620.6 588.0,629.0 593.3,638.5 599.2,647.0 605.8,658.7 611.7,669.2 614.3,678.8 614.3,690.4 619.0,702.1 626.8,711.6 634.7,716.9 642.6,724.3 650.5,729.6 659.1,734.9 668.9,739.1 678.1,739.1 682.1,734.9 688.0,735.9 695.2,744.4 700.5,751.8 706.4,759.2 715.0,760.3 721.5,765.6 729.4,766.6 732.7,770.9 738.0,779.3 742.6,788.9 743.2,797.3 745.9,801.6"/>
<polyline points="780.1,630.1 778.1,639.6 774.8,639.6 772.8,635.4 768.9,630.1 766.3,622.7 763.0,611.0 762.3,601.5 759.0,595.2 754.4,587.7 747.8,592.0 743.9,586.7 738.0,584.6 730.7,585.6 726.8,581.4 722.2,584.6 717.6,586.7 718.9,596.2 720.9,598.3 717.6,594.1 713.0,598.3 706.4,596.2 699.8,593.0 690.0,592.0 683.4,596.2 679.4,600.4 672.9,606.8 667.6,613.1 666.3,622.7 667.9,631.7 664.3,647.0 663.7,668.2 666.3,679.8 671.6,695.7 675.5,705.2 682.1,710.5 685.4,714.8 692.6,711.6 698.5,709.5 703.1,710.5 708.4,704.2 711.7,696.8 712.3,685.1 715.0,680.9 724.2,678.8 733.4,678.8 736.0,686.2 732.1,694.6 730.1,703.1 728.1,710.5 726.1,721.1 726.1,737.0 730.1,739.1 736.0,739.1 744.6,738.0 751.1,739.1 758.4,745.5 759.7,755.0 757.7,768.7 756.4,780.4 755.7,789.9 761.0,800.5 766.3,810.0 774.1,812.1 782.0,805.8 790.6,806.9 797.2,815.3 801.8,821.7 807.0,807.9 810.3,795.2 816.9,789.9 823.5,786.7 832.0,780.4 837.3,789.9 836.0,800.5 839.9,805.8 838.6,789.9 846.5,784.6 849.8,784.6 857.0,794.1 869.5,794.1 879.4,799.4 885.9,794.1 895.8,793.1 902.4,800.5"/>
<polyline points="700.5,751.8 701.8,744.4 707.1,735.9 712.3,735.9 712.3,717.9 720.5,717.9 720.5,738.0 726.1,737.0"/>
<polyline points="720.5,717.9 722.9,711.6 728.1,710.5"/>
<polyline points="719.6,747.6 718.2,756.0 714.3,761.3"/>
<polyline points="719.6,747.6 726.8,740.2"/>
<polyline points="719.6,747.6 724.8,759.2 729.4,764.5"/>
<polyline points="732.7,769.8 741.3,759.2 747.8,749.7 754.4,749.7 759.7,748.6"/>
<polyline points="743.2,788.9 754.4,791.0 756.4,791.0"/>
<polyline points="761.6,820.6 763.0,806.9 764.3,804.7"/>
<polyline points="780.1,630.1 780.4,621.6 777.4,610.0 776.8,603.6 774.1,596.2 771.5,586.7 771.5,578.2 772.8,571.9 774.8,566.6 778.1,562.3 785.3,554.9 789.9,548.6 794.5,545.4 799.1,540.1 803.7,539.1 809.0,533.8 810.3,527.4 807.7,518.9 805.7,514.7 804.4,509.4 805.1,500.9 803.7,491.4 807.0,488.2 809.0,494.6 807.0,500.9 807.7,509.4 810.3,505.2 812.9,499.9 812.9,495.7 810.3,488.2 814.3,494.6 816.9,489.3 820.2,482.9 820.2,477.7 820.8,474.5 825.4,473.4 833.3,471.3 829.4,473.4 820.8,476.6 822.1,473.4 827.4,470.2 834.0,469.2 837.3,468.1 839.2,467.1 841.9,467.1 846.5,465.0 846.5,461.8 842.5,462.8 839.9,458.6 842.5,454.4 841.2,451.2 844.5,444.8 847.8,442.7 853.1,439.6 856.3,437.4 860.3,436.4 864.9,433.2 866.2,430.0 869.5,427.9 876.1,424.7 880.7,421.6 884.0,419.4 882.6,414.1 879.4,408.9 880.7,400.4 876.1,398.3 869.5,397.2 883.3,389.8 880.0,385.6 869.5,385.6 856.3,393.0 846.5,405.7 838.6,411.0 830.0,417.3 823.5,423.7 816.9,427.9"/>
<polyline points="871.5,436.4 879.4,444.8 885.9,435.3 891.2,433.2 900.4,429.0 905.7,426.8 912.2,420.5 909.6,411.0 904.3,413.1 901.1,421.6 894.5,423.7 886.6,426.8 882.6,429.0 874.1,434.3 871.5,436.4"/>
<polyline points="883.3,413.1 892.5,416.3 899.1,415.2 892.5,413.1 885.3,408.9 883.3,413.1"/>
<polyline points="820.2,476.6 830.0,473.4 834.0,471.3 826.8,472.4 821.5,474.5"/>
<polyline points="701.2,412.0 708.4,409.9 712.3,413.1 718.9,411.0 725.5,404.6 729.4,403.6 731.4,409.9 738.0,414.1 747.8,411.0 750.5,414.1 751.1,408.9 748.5,400.4 742.6,398.3 737.3,390.9 726.1,388.7 719.6,395.1 711.7,399.3 701.2,412.0"/>
<polyline points="728.8,451.2 729.4,458.6 731.4,465.0 736.0,463.9 737.3,456.5 739.9,451.2 738.0,440.6 741.3,430.0 745.2,427.9 747.8,421.6 744.6,419.4 736.7,421.6 730.7,429.0 728.1,434.3 730.7,438.5 728.8,451.2"/>
<polyline points="749.8,421.6 757.7,420.5 764.3,421.6 770.9,420.5 775.5,423.7 779.4,430.0 776.1,435.3 772.2,432.1 769.5,440.6 764.3,451.2 766.9,444.8 761.0,440.6 759.0,437.4 759.0,430.0 753.1,423.7 749.8,421.6"/>
<polyline points="758.4,465.0 764.3,468.1 770.9,466.0 777.4,461.8 782.0,458.6 788.0,452.3 780.7,454.4 772.2,455.4 764.3,461.8 760.3,460.7 758.4,465.0"/>
<polyline points="782.0,448.0 787.3,448.0 797.2,448.0 805.1,445.9 805.7,440.6 803.7,438.5 797.2,440.6 788.0,441.7 784.0,444.8 782.0,448.0"/>
<polyline points="764.3,451.2 764.3,455.4 760.3,460.7"/>
<polyline points="748.5,674.5 752.4,673.5 759.7,664.0 767.6,660.8 776.8,661.8 787.3,669.2 795.2,675.6 807.0,681.9 809.7,687.2 818.9,692.5 814.9,695.7 800.4,695.7 795.8,691.5 799.1,687.2 793.9,684.1 788.6,677.7 777.4,673.5 768.9,671.4 764.3,667.1 755.1,671.4 748.5,674.5"/>
<polyline points="816.9,711.6 828.1,695.7 835.3,695.7 846.5,698.9 851.7,705.2 857.0,709.5 853.1,713.7 841.9,711.6 837.3,720.1 833.3,713.7 823.5,713.7 816.9,711.6"/>
<polyline points="835.3,695.7 834.6,706.3 835.3,715.8"/>
<polyline points="791.2,711.6 800.4,710.5 805.7,715.8 799.1,717.9 792.6,713.7 791.2,711.6"/>
<polyline points="864.2,711.6 875.4,711.6 874.8,715.8 864.9,715.8 864.2,711.6"/>
<polyline points="793.9,623.7 799.1,624.8 798.5,629.0 794.5,625.8 793.9,623.7"/>
<polyline points="795.2,639.6 797.2,646.0 795.2,650.2 792.6,643.8 795.2,639.6"/>
<polyline points="802.4,636.4 805.7,641.7 808.3,646.0 806.4,641.7 802.4,636.4"/>
<polyline points="808.3,656.5 812.3,660.8 811.0,657.6 808.3,656.5"/>
<polyline points="820.2,666.1 821.5,670.3 818.9,670.3 820.2,666.1"/>
<polyline points="822.8,681.9 826.8,684.1 823.5,684.1 822.8,681.9"/>
<polyline points="899.7,725.3 901.1,726.4 900.4,727.5 899.7,725.3"/>
<polyline points="900.4,732.8 904.3,731.7 902.4,735.9 900.4,732.8"/>
<polyline points="903.0,741.2 903.7,745.5 902.4,744.4 903.0,741.2"/>
<polyline points="904.3,748.6 906.3,751.8 905.0,753.9 904.3,748.6"/>
<polyline points="905.7,757.1 906.3,761.3 905.0,760.3 905.7,757.1"/>
<polyline points="900.4,777.2 901.7,779.3 900.4,779.3 900.4,777.2"/>
<polyline points="905.7,792.0 906.3,799.4 899.7,799.4 902.4,793.1 905.7,792.0"/>
<polyline points="890.5,712.6 893.8,716.9 891.9,717.9 890.5,712.6"/>
<polyline points="880.7,717.9 882.0,719.0 880.0,719.0 880.7,717.9"/>
<polyline points="256.6,671.4 259.2,671.4 258.9,674.5 256.6,673.5 256.6,671.4"/>
<polyline points="266.5,677.7 269.8,680.9 267.1,680.9 266.5,677.7"/>
<polyline points="272.4,681.9 276.3,683.0 280.9,686.2 279.0,688.3 276.3,685.1 272.4,681.9"/>
<polyline points="281.6,692.0 287.5,697.8 288.8,699.9 283.6,705.8 281.3,701.0 281.6,692.0"/>
<polyline points="157.0,197.0 162.0,196.0 174.0,196.5 179.0,199.0 185.0,204.0 191.0,207.0 185.0,209.0 174.0,211.0 170.0,211.0 173.0,214.0 173.0,218.0 169.0,220.0 168.0,224.0 164.0,224.0 157.0,221.0"/>
<polyline points="157.0,201.0 161.0,198.0 162.0,203.0 157.0,204.0"/>
<polyline points="380.2,169.2 352.7,165.0 332.7,160.8 312.7,160.8 302.7,155.8 286.0,155.8 281.0,151.7 272.7,151.7 266.0,155.0 256.0,156.7 252.7,159.2 242.7,160.8 234.3,166.7 227.7,175.0 214.3,178.3 211.0,182.5 212.0,183.0 221.0,187.0 231.0,195.0 241.0,196.0 246.0,201.0 256.0,203.0 246.0,205.0 232.0,206.0 228.0,201.0 218.0,204.0 203.0,211.0 214.0,215.0 212.0,220.0 218.0,223.0 234.0,224.0 241.0,222.0 248.0,219.0 250.0,222.0 250.0,232.0 241.0,235.0 234.0,238.0 228.0,237.0 223.0,242.0 216.0,252.0 216.0,255.0 217.0,258.0 224.0,260.0 223.0,265.0 227.0,272.0 230.0,274.0 240.0,270.0 243.0,275.0 243.0,283.0 246.0,286.0 253.0,282.0 260.0,285.0 263.0,288.0 265.0,283.0 270.0,285.0 275.0,284.0 272.0,290.0 270.0,297.0 264.0,303.0 255.0,312.0 247.0,315.0 235.0,323.0 223.0,330.0 226.0,331.0 237.0,325.0 253.0,317.0 265.0,311.0 279.0,303.0 280.0,298.0 290.0,293.0 298.0,284.0 294.0,280.0 304.0,270.0 315.0,258.0 320.0,257.0"/>
<polyline points="382.5,168.3 391.7,170.0 403.3,175.8 415.0,177.5 414.2,173.3 420.0,170.0 436.7,168.3 450.0,164.2 453.3,165.0 433.3,175.0 431.7,178.3 436.7,181.7 450.0,173.3 463.3,166.7 466.7,158.3 470.0,161.3 475.3,169.3 483.3,172.0 487.3,165.3 490.0,172.0 502.0,166.7 520.7,173.3 540.7,177.3 556.7,181.3 548.7,186.7 550.0,189.3 568.7,190.7 584.7,188.0 594.0,194.7 602.0,201.3 603.0,190.0 600.0,181.3 613.3,178.7 630.7,188.0 644.0,190.7 658.7,188.0 666.7,186.7 680.0,197.3"/>
<polyline points="380.2,169.2 381.5,200.0 382.0,270.0 384.0,271.0"/>
<polyline points="556.7,113.3 571.3,118.0 587.3,113.3"/>
<polyline points="700.0,114.7 713.3,116.0 726.7,114.7 740.0,116.0 758.7,114.7 762.7,114.7 772.0,117.3 780.0,117.3 780.0,121.3"/>
<polyline points="774.7,125.3 790.7,126.7 802.7,132.0 806.7,136.0"/>
<polyline points="750.0,128.0 764.7,126.0 774.0,128.0 778.0,133.3 775.3,144.0 783.3,142.7 786.0,140.0 791.3,145.3 792.7,140.0 799.3,138.7 807.3,136.0 815.3,141.3 815.3,149.3 823.3,148.0 826.0,152.0 836.7,152.0 838.0,156.0 846.0,156.0 850.0,161.3 852.7,165.3 859.3,164.0 868.7,173.3 858.0,176.0 863.3,182.7 874.0,186.7 883.3,189.3 887.3,194.7 897.3,197.3 905.3,201.3 893.3,212.0 889.3,218.7 880.0,214.0 865.3,202.7 858.7,205.3 865.3,213.3 873.3,220.0 880.0,224.0 882.7,233.3 878.7,242.7 884.0,248.0"/>
<polyline points="750.0,128.0 746.0,133.3 751.3,137.3 746.0,144.0 750.0,149.3 747.3,154.7"/>
<polyline points="776.7,126.7 794.0,126.7 802.0,130.7 807.3,134.7"/>
<polyline points="730.0,161.3 756.7,164.0 776.7,164.0 778.0,157.3 788.7,160.0 799.3,166.7 811.3,176.0 817.3,180.0 832.0,190.7 830.7,200.0 841.3,196.0 852.0,201.3 849.3,206.7 841.3,208.0 820.0,205.3 825.3,212.0 812.0,216.0 798.7,216.0 794.7,222.7 804.0,226.7 816.0,221.3 826.7,222.7 833.3,230.7 840.0,233.3 844.0,241.3 852.0,244.0 860.0,248.0 873.3,252.0"/>
<polyline points="680.0,174.0 693.3,175.3 690.7,191.3 680.0,196.7"/>
<polyline points="710.7,170.0 716.0,180.7 724.0,174.0 729.3,180.7 733.3,194.0 742.7,187.3 749.3,176.7 746.7,170.0"/>
<polyline points="764.0,170.0 772.0,174.0 765.3,180.7 773.3,194.0 762.7,203.3 750.7,198.0"/>
<polyline points="698.7,168.0 710.7,170.7 714.7,181.3 722.7,174.7 729.3,177.3 730.7,186.7 734.7,194.7 745.3,182.7 750.7,173.3 746.7,169.3 760.0,168.0"/>
<polyline points="721.3,150.7 733.3,160.0 741.3,162.7 760.0,162.7"/>
<polyline points="736.0,202.0 752.0,195.3 757.3,204.7 754.7,210.0"/>
<polyline points="694.7,228.7 706.0,232.0 713.3,235.3"/>
<polyline points="694.7,229.3 700.0,242.7 692.0,253.3 686.7,264.0 685.3,277.3 692.0,285.3 700.0,293.3 702.7,302.7 718.7,301.3 734.7,309.3 750.7,317.3 766.7,322.7 769.3,338.7 772.0,349.3 777.3,357.3 785.3,368.0 790.7,360.0 788.0,338.7 785.3,328.0 798.7,317.3 805.3,301.3 798.7,290.7 793.3,285.3 796.0,269.3 797.3,260.0 796.0,245.3 806.7,244.0 820.0,246.7 836.0,254.7 849.3,261.3 852.0,272.0 849.3,284.0 860.0,289.3 873.3,285.3 881.3,273.3 884.0,270.7 893.3,284.0 902.7,297.3 910.7,320.0 926.7,330.7 916.0,338.7 932.0,333.3 937.3,338.7 940.0,354.7 926.7,368.0 900.0,373.3 868.0,373.3 854.7,386.7 844.0,405.3 841.3,413.3"/>
<polyline points="930.0,112.0 940.0,124.5 950.0,134.5 945.0,152.0 965.0,149.5 975.0,167.0 955.0,167.0 950.0,172.0 977.5,187.0 962.5,187.0 960.0,199.5 977.5,194.5"/>
<polyline points="956.0,210.0 964.0,212.0 970.0,222.0 978.0,230.0"/>
<polyline points="315.0,258.0 326.0,260.0 332.7,260.0 344.3,265.0 356.0,268.3 372.7,271.7 380.2,271.7"/>
<polyline points="309.0,280.0 313.0,273.0 320.0,263.0"/>
<polyline points="463.0,366.0 472.0,368.0 480.0,371.0 487.0,375.0"/>
<polygon points="177.0,232.0 186.0,232.5 196.0,237.0 191.0,239.0 184.0,236.0 177.0,234.0"/>
<polygon points="206.0,270.0 212.0,269.0 219.0,272.0 214.0,275.0 207.0,274.0"/>
<polygon points="226.0,262.0 230.0,260.0 233.0,263.0 229.0,265.0"/>
<polygon points="292.0,296.0 298.0,289.0 306.0,288.0 304.0,296.0 297.0,303.0"/>
<polygon points="208.0,336.0 214.0,334.0 215.0,339.0 209.0,341.0"/>
<polygon points="199.0,340.0 203.0,339.0 204.0,342.0 200.0,343.0"/>
<polygon points="486.0,118.0 510.0,116.7 526.0,121.3 546.0,125.3 534.0,130.7 518.0,140.0 514.0,148.0 499.3,153.3 494.0,146.7 480.7,144.0 484.7,134.7 491.3,125.3"/>
<polygon points="524.7,144.0 531.3,137.3 552.7,129.3 558.0,133.3 555.3,137.3 571.3,136.0 574.0,140.0 582.0,133.3 590.0,136.0 598.0,145.3 596.7,129.3 606.0,126.7 619.3,126.7 615.3,133.3 622.0,148.0 620.7,153.3 630.0,158.7 642.0,164.0 644.0,168.0 630.0,170.0 618.0,172.0 607.3,170.7 600.7,176.0 587.3,178.7 572.7,180.0 560.7,178.7 551.3,173.3 535.3,165.3 542.0,161.3 572.7,161.3 563.3,158.0 534.0,158.0 530.0,153.3 547.3,150.7 534.0,149.3"/>
<polygon points="594.0,177.0 606.0,176.0 614.0,180.0 610.0,186.7 598.0,186.0"/>
<polygon points="640.0,125.3 656.0,124.0 669.3,125.3 662.7,132.0 674.7,138.7 672.0,146.7 661.3,152.0 650.7,145.3 633.3,136.0 636.0,132.0 646.7,132.0"/>
<polygon points="674.7,152.0 682.7,146.7 693.3,148.0 701.3,161.3 696.0,169.3 696.0,178.7 688.0,188.0 681.3,196.0 678.7,186.7 664.0,184.0 656.0,176.0 661.3,169.3 670.0,172.0 680.0,176.0 677.3,162.7 673.3,156.0"/>
<polygon points="680.0,125.3 693.3,122.7 712.0,122.7 706.7,132.0 692.0,136.0 688.0,142.7 681.3,137.3"/>
<polygon points="720.0,132.0 733.3,126.7 746.7,125.3 737.3,134.7 746.7,146.7 750.7,154.7 741.3,156.0 730.0,152.0 717.3,148.0 717.3,138.7"/>
<polygon points="800.0,186.0 806.0,183.0 813.3,186.0 812.0,194.0 803.0,195.0"/>
<polygon points="854.7,232.0 862.7,230.7 881.3,238.7 873.3,250.7 862.7,241.3"/>
<polygon points="794.7,218.0 806.0,214.7 812.0,220.0 804.0,226.0 796.0,224.0"/>
<polygon points="780.0,248.0 786.7,247.0 786.0,254.7 780.5,254.0"/>
<polygon points="792.0,233.0 795.0,232.5 794.0,235.0"/>
<polygon points="800.5,233.0 803.5,232.5 802.5,235.0"/>
<polygon points="878.0,254.0 881.0,254.0 881.0,257.0 878.0,257.0"/>
<polygon points="792.0,233.0 796.0,232.5 795.0,236.0"/>
<polygon points="744.0,210.0 760.0,218.0 769.3,224.7 778.7,230.0 762.7,228.7 748.0,238.0 745.3,231.3 734.7,232.7 741.3,227.3 742.7,220.7"/>
<polygon points="710.7,208.7 720.0,208.7 730.7,214.0 733.3,218.0 724.0,214.0 712.0,211.3"/>
<polygon points="757.0,241.0 765.0,238.5 771.0,240.0 766.0,247.0 758.0,249.0"/>
<polygon points="917.1,402.5 922.4,387.7 929.0,371.8 941.5,360.2 940.0,368.0 944.0,374.0 952.0,380.3 956.6,393.0 960.6,402.5 957.9,412.0 952.0,405.7 948.0,410.0 942.1,407.8 936.0,404.0 927.6,402.5"/>
<polygon points="886.7,381.3 900.0,382.0 902.0,386.0 888.0,385.0"/>
<polygon points="948.0,155.0 962.0,160.0 968.0,170.0 952.0,168.0"/>
<polygon points="950.0,172.0 970.0,176.0 976.0,184.0 958.0,182.0"/>
<polygon points="869.0,546.5 871.0,546.5 871.0,548.5 869.0,548.5"/>
<polygon points="913.0,439.5 915.0,439.5 915.0,441.0 913.0,441.0"/>
<polygon points="916.0,766.0 918.0,766.0 918.0,768.0 916.0,768.0"/>
<polygon points="439.0,313.0 446.0,314.0 447.0,322.0 441.0,324.0 438.0,318.0"/>
<polygon points="451.0,336.0 455.0,337.0 456.0,345.0 452.0,345.0"/>
<polygon points="460.0,347.0 468.0,349.0 473.0,356.0 468.0,359.0 461.0,353.0"/>
<polygon points="409.0,285.0 418.0,284.0 420.0,292.0 412.0,295.0"/>
</g>
<polyline fill="none" stroke="#ffff00" stroke-width="1" shape-rendering="crispEdges" points="208.0,176.5 273.5,144.0 379.0,165.0 379.5,261.7 398.7,271.0 420.0,271.0 451.3,313.7 451.3,335.0 438.0,335.0 425.3,324.3 405.3,303.0 385.3,281.7 346.5,271.5 341.0,283.0 320.0,283.0 295.0,315.0 280.0,303.0 261.0,324.0 195.0,356.0 195.0,336.0 262.0,303.0 268.0,292.5 248.0,292.5 221.0,271.0 216.0,282.0 202.0,271.0 215.5,261.5 208.5,249.5 234.0,229.0 208.0,229.0 195.5,207.8 221.5,197.0 208.0,188.0 208.0,176.5"/>
<polyline fill="none" stroke="#ffff00" stroke-width="1" shape-rendering="crispEdges" points="484.2,377.5 728.3,377.5 758.3,416.7 766.7,428.3 767.5,451.7 760.0,462.5 766.7,462.5 781.7,450.0 786.7,441.7 798.3,441.7 806.7,430.0 835.0,429.2 853.3,398.3 859.2,398.3 865.8,409.2 866.7,419.2 872.5,430.0 872.5,441.7 846.7,451.7 853.3,471.7 827.5,483.3 813.5,513.0 813.5,537.0 774.0,579.0 787.0,642.0 768.0,642.0 754.0,598.5 718.0,598.5 696.0,599.0 676.0,610.0 668.0,642.0 656.0,632.0 642.0,599.0 622.0,599.0 610.0,578.0 576.0,578.0 518.0,558.0 484.5,484.0 484.2,377.5"/>
<polyline fill="none" stroke="#00ffff" stroke-width="1" shape-rendering="crispEdges" points="373.3,165.0 470.0,155.3 473.3,155.3 570.0,179.2 710.0,215.6 884.0,261.0 906.0,302.0 938.0,335.0 964.0,397.5 958.0,419.5 932.0,409.5 872.5,451.7 860.0,420.0 859.2,409.2 853.3,409.2 840.0,430.0 813.3,430.0 786.7,451.7 760.0,418.3 700.8,388.3 490.8,388.3 484.2,397.5 458.3,371.7 440.0,353.3 432.0,345.7 425.3,324.3 445.3,324.3 445.3,313.7 420.0,282.3 404.0,282.3 373.3,270.7 373.3,165.0"/>
</g>

<rect x="156.5" y="112.5" width="822" height="688" fill="none" stroke="#000" stroke-width="1"/>
<g class="mono" font-size="22" fill="#000" stroke="#fff" stroke-width="0.55">
<text x="247.5" y="823" text-anchor="middle">−160</text><text x="379.5" y="823" text-anchor="middle">−140</text><text x="510.5" y="823" text-anchor="middle">−120</text><text x="642.5" y="823" text-anchor="middle">−100</text><text x="773.5" y="823" text-anchor="middle">−80</text><text x="905.5" y="823" text-anchor="middle">−60</text><text x="149" y="807.0" text-anchor="end">10</text><text x="149" y="702.0" text-anchor="end">20</text><text x="149" y="596.0" text-anchor="end">30</text><text x="149" y="490.0" text-anchor="end">40</text><text x="149" y="384.0" text-anchor="end">50</text><text x="149" y="278.0" text-anchor="end">60</text><text x="149" y="172.0" text-anchor="end">70</text>
</g>
<g class="mono" font-size="21.5" fill="#000" text-anchor="middle" lengthAdjust="spacingAndGlyphs">
<text x="565" y="19.5" textLength="583" lengthAdjust="spacingAndGlyphs">Shadow Raytheon 2 LPV Coverage Contours</text>
<text x="566" y="45.3" textLength="118" lengthAdjust="spacingAndGlyphs">02/25/21</text>
<text x="564.5" y="71.2" textLength="224" lengthAdjust="spacingAndGlyphs">Week 2146 Day 4</text>
</g>
<text class="mono" font-weight="bold" font-size="18.2" x="570" y="844" text-anchor="middle">Longitude</text>
<text class="mono" font-weight="bold" font-size="18.2" transform="translate(111.6,454.4) rotate(-90)" text-anchor="middle">Latitude</text>
<g id="cbar">
<rect x="1010.5" y="790.73" width="42" height="11.17" fill="#00008f"/>
<rect x="1010.5" y="779.97" width="42" height="11.17" fill="#00009f"/>
<rect x="1010.5" y="769.20" width="42" height="11.17" fill="#0000af"/>
<rect x="1010.5" y="758.44" width="42" height="11.17" fill="#0000bf"/>
<rect x="1010.5" y="747.67" width="42" height="11.17" fill="#0000cf"/>
<rect x="1010.5" y="736.91" width="42" height="11.17" fill="#0000df"/>
<rect x="1010.5" y="726.14" width="42" height="11.17" fill="#0000ef"/>
<rect x="1010.5" y="715.38" width="42" height="11.17" fill="#0000ff"/>
<rect x="1010.5" y="704.61" width="42" height="11.17" fill="#0010ff"/>
<rect x="1010.5" y="693.84" width="42" height="11.17" fill="#0020ff"/>
<rect x="1010.5" y="683.08" width="42" height="11.17" fill="#0030ff"/>
<rect x="1010.5" y="672.31" width="42" height="11.17" fill="#0040ff"/>
<rect x="1010.5" y="661.55" width="42" height="11.17" fill="#0050ff"/>
<rect x="1010.5" y="650.78" width="42" height="11.17" fill="#0060ff"/>
<rect x="1010.5" y="640.02" width="42" height="11.17" fill="#0070ff"/>
<rect x="1010.5" y="629.25" width="42" height="11.17" fill="#0080ff"/>
<rect x="1010.5" y="618.48" width="42" height="11.17" fill="#008fff"/>
<rect x="1010.5" y="607.72" width="42" height="11.17" fill="#009fff"/>
<rect x="1010.5" y="596.95" width="42" height="11.17" fill="#00afff"/>
<rect x="1010.5" y="586.19" width="42" height="11.17" fill="#00bfff"/>
<rect x="1010.5" y="575.42" width="42" height="11.17" fill="#00cfff"/>
<rect x="1010.5" y="564.66" width="42" height="11.17" fill="#00dfff"/>
<rect x="1010.5" y="553.89" width="42" height="11.17" fill="#00efff"/>
<rect x="1010.5" y="543.12" width="42" height="11.17" fill="#00ffff"/>
<rect x="1010.5" y="532.36" width="42" height="11.17" fill="#10ffef"/>
<rect x="1010.5" y="521.59" width="42" height="11.17" fill="#20ffdf"/>
<rect x="1010.5" y="510.83" width="42" height="11.17" fill="#30ffcf"/>
<rect x="1010.5" y="500.06" width="42" height="11.17" fill="#40ffbf"/>
<rect x="1010.5" y="489.30" width="42" height="11.17" fill="#50ffaf"/>
<rect x="1010.5" y="478.53" width="42" height="11.17" fill="#60ff9f"/>
<rect x="1010.5" y="467.77" width="42" height="11.17" fill="#70ff8f"/>
<rect x="1010.5" y="457.00" width="42" height="11.17" fill="#80ff80"/>
<rect x="1010.5" y="446.23" width="42" height="11.17" fill="#8fff70"/>
<rect x="1010.5" y="435.47" width="42" height="11.17" fill="#9fff60"/>
<rect x="1010.5" y="424.70" width="42" height="11.17" fill="#afff50"/>
<rect x="1010.5" y="413.94" width="42" height="11.17" fill="#bfff40"/>
<rect x="1010.5" y="403.17" width="42" height="11.17" fill="#cfff30"/>
<rect x="1010.5" y="392.41" width="42" height="11.17" fill="#dfff20"/>
<rect x="1010.5" y="381.64" width="42" height="11.17" fill="#efff10"/>
<rect x="1010.5" y="370.88" width="42" height="11.17" fill="#ffff00"/>
<rect x="1010.5" y="360.11" width="42" height="11.17" fill="#ffef00"/>
<rect x="1010.5" y="349.34" width="42" height="11.17" fill="#ffdf00"/>
<rect x="1010.5" y="338.58" width="42" height="11.17" fill="#ffcf00"/>
<rect x="1010.5" y="327.81" width="42" height="11.17" fill="#ffbf00"/>
<rect x="1010.5" y="317.05" width="42" height="11.17" fill="#ffaf00"/>
<rect x="1010.5" y="306.28" width="42" height="11.17" fill="#ff9f00"/>
<rect x="1010.5" y="295.52" width="42" height="11.17" fill="#ff8f00"/>
<rect x="1010.5" y="284.75" width="42" height="11.17" fill="#ff8000"/>
<rect x="1010.5" y="273.98" width="42" height="11.17" fill="#ff7000"/>
<rect x="1010.5" y="263.22" width="42" height="11.17" fill="#ff6000"/>
<rect x="1010.5" y="252.45" width="42" height="11.17" fill="#ff5000"/>
<rect x="1010.5" y="241.69" width="42" height="11.17" fill="#ff4000"/>
<rect x="1010.5" y="230.92" width="42" height="11.17" fill="#ff3000"/>
<rect x="1010.5" y="220.16" width="42" height="11.17" fill="#ff2000"/>
<rect x="1010.5" y="209.39" width="42" height="11.17" fill="#ff1000"/>
<rect x="1010.5" y="198.62" width="42" height="11.17" fill="#ff0000"/>
<rect x="1010.5" y="187.86" width="42" height="11.17" fill="#ef0000"/>
<rect x="1010.5" y="177.09" width="42" height="11.17" fill="#df0000"/>
<rect x="1010.5" y="166.33" width="42" height="11.17" fill="#cf0000"/>
<rect x="1010.5" y="155.56" width="42" height="11.17" fill="#bf0000"/>
<rect x="1010.5" y="144.80" width="42" height="11.17" fill="#af0000"/>
<rect x="1010.5" y="134.03" width="42" height="11.17" fill="#9f0000"/>
<rect x="1010.5" y="123.27" width="42" height="11.17" fill="#8f0000"/>
<rect x="1010.5" y="112.50" width="42" height="11.17" fill="#800000"/>
<rect x="1010.5" y="112.5" width="42" height="689" fill="none" stroke="#000" stroke-width="1"/>
<g stroke="#000" stroke-width="1"><line x1="1010" y1="342.5" x2="1017" y2="342.5"/><line x1="1045" y1="342.5" x2="1052" y2="342.5"/><line x1="1010" y1="572.5" x2="1017" y2="572.5"/><line x1="1045" y1="572.5" x2="1052" y2="572.5"/></g>
</g>
<g class="sans" font-size="20" fill="#000">
<text x="1058" y="120">1</text>
<text x="1058" y="349">0.95</text>
<text x="1058" y="579">0.9</text>
<text x="1058" y="808">0.85</text>
</g>
<g class="mono" font-size="15" fill="#000" style="white-space:pre">
<text x="162" y="529.7" xml:space="preserve">Percent| CONUS   | Alaska  | Canada</text>
<text x="162" y="551.0" xml:space="preserve"> Avail.|Coverage |Coverage | Coverage</text>
<text x="162" y="572.7" xml:space="preserve">  95   | 100.00%  | 100.00% | 100.00%</text>
<text x="162" y="593.7" xml:space="preserve">  98   | 100.00%  | 100.00% | 100.00%</text>
<text x="162" y="614.7" xml:space="preserve">  99   | 100.00%  | 100.00% | 100.00%</text>
<text x="162" y="635.7" xml:space="preserve">99.9   | 100.00%  | 99.66% | 100.00%</text>
<text x="162" y="656.7" xml:space="preserve"> 100   | 100.00%  | 99.66% | 100.00%</text>
</g>
<line x1="163" y1="557.5" x2="503" y2="557.5" stroke="#000" stroke-width="1" stroke-dasharray="6,3"/>
<g class="mono" font-size="12" fill="#000">
<text x="187.5" y="747" textLength="162" lengthAdjust="spacingAndGlyphs">W.J.H. FAA Technical Center</text>
<text x="187.5" y="759.8" textLength="84" lengthAdjust="spacingAndGlyphs">WAAS Test Team</text>
</g>
</svg>
</body></html>
